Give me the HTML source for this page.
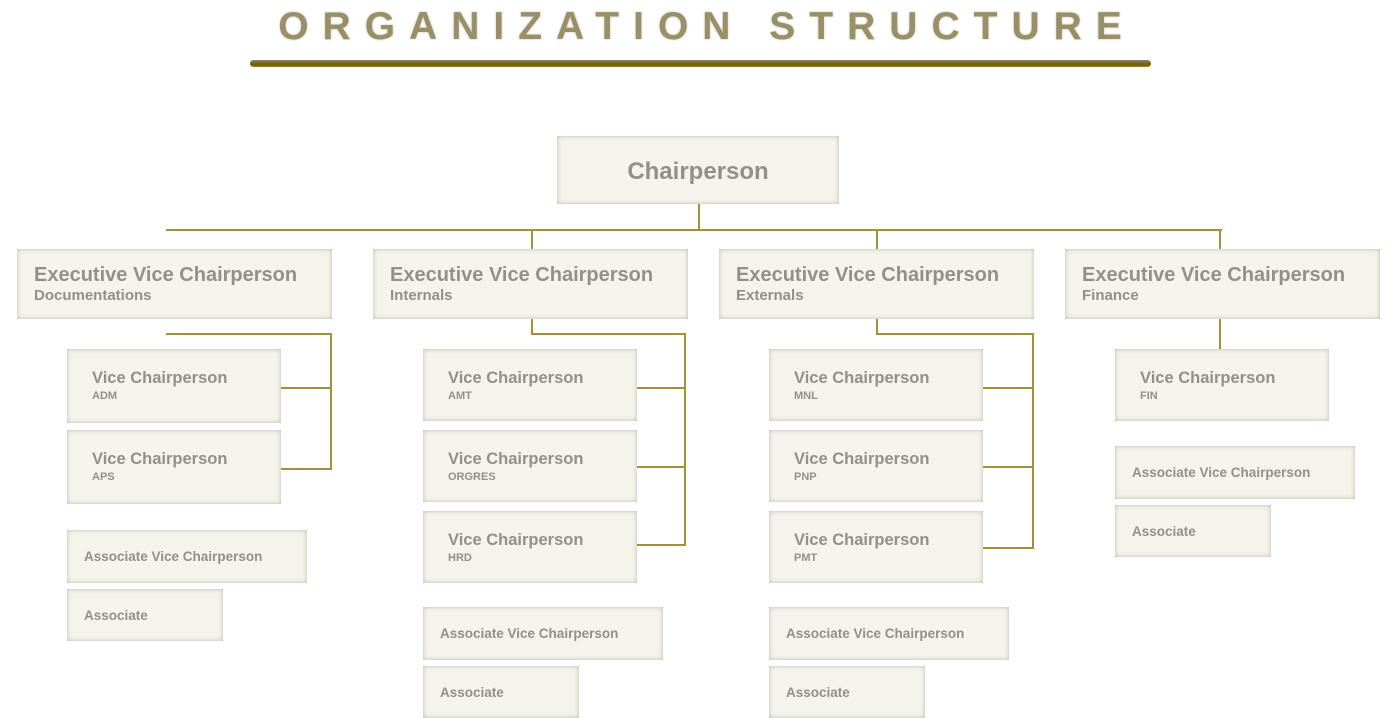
<!DOCTYPE html>
<html><head><meta charset="utf-8"><style>
*{margin:0;padding:0;box-sizing:border-box}
body{width:1400px;height:718px;background:#fff;position:relative;overflow:hidden;font-family:"Liberation Sans",sans-serif;font-weight:bold;color:#919188}
.t{position:absolute;left:0;width:1400px;top:5px;text-align:center;font-size:39px;letter-spacing:14px;color:#9a9068;text-shadow:0 0 2px rgba(80,70,30,.35);padding-left:14px}
.bar{position:absolute;left:250px;top:60px;width:901px;height:7px;border-radius:4px;background:linear-gradient(to bottom,#8f8556,#6b5a18 60%,#9a7e1e)}
.b{position:absolute;background:#f5f4ea;box-shadow:inset 0 0 5px rgba(0,0,0,.25);white-space:nowrap}
.l{position:absolute;background:#a48f3a}
.e{font-size:20px;padding:15px 0 0 17px;line-height:22px}
.e span{display:block;font-size:15px;line-height:19px}
.v{font-size:16.5px;padding:20px 0 0 25px;line-height:19px}
.v span{display:block;font-size:11px;line-height:16px}
.a{font-size:13.5px;padding:19px 0 0 17px}
</style></head><body>
<div class="t">ORGANIZATION STRUCTURE</div>
<div class="bar"></div>

<div class="b" style="left:557px;top:136px;width:282px;height:68px;font-size:24px;text-align:center;line-height:72px">Chairperson</div>
<div class="l" style="left:698px;top:204px;width:2px;height:27px"></div>
<div class="l" style="left:166px;top:229px;width:1056px;height:2px"></div>
<div class="l" style="left:531px;top:229px;width:2px;height:20px"></div>
<div class="l" style="left:876px;top:229px;width:2px;height:20px"></div>
<div class="l" style="left:1219px;top:229px;width:2px;height:20px"></div>

<div class="b e" style="left:17px;top:249px;width:315px;height:70px">Executive Vice Chairperson<span>Documentations</span></div>
<div class="b e" style="left:373px;top:249px;width:315px;height:70px">Executive Vice Chairperson<span>Internals</span></div>
<div class="b e" style="left:719px;top:249px;width:315px;height:70px">Executive Vice Chairperson<span>Externals</span></div>
<div class="b e" style="left:1065px;top:249px;width:315px;height:70px">Executive Vice Chairperson<span>Finance</span></div>

<div class="l" style="left:166px;top:333px;width:166px;height:2px"></div>
<div class="l" style="left:330px;top:333px;width:2px;height:137px"></div>
<div class="l" style="left:281px;top:387px;width:50px;height:2px"></div>
<div class="l" style="left:281px;top:468px;width:50px;height:2px"></div>

<div class="l" style="left:531px;top:319px;width:2px;height:15px"></div>
<div class="l" style="left:531px;top:333px;width:155px;height:2px"></div>
<div class="l" style="left:684px;top:333px;width:2px;height:213px"></div>
<div class="l" style="left:637px;top:387px;width:48px;height:2px"></div>
<div class="l" style="left:637px;top:466px;width:48px;height:2px"></div>
<div class="l" style="left:637px;top:544px;width:48px;height:2px"></div>

<div class="l" style="left:876px;top:319px;width:2px;height:15px"></div>
<div class="l" style="left:876px;top:333px;width:158px;height:2px"></div>
<div class="l" style="left:1032px;top:333px;width:2px;height:216px"></div>
<div class="l" style="left:983px;top:387px;width:50px;height:2px"></div>
<div class="l" style="left:983px;top:466px;width:50px;height:2px"></div>
<div class="l" style="left:983px;top:547px;width:50px;height:2px"></div>

<div class="l" style="left:1219px;top:319px;width:2px;height:30px"></div>

<div class="b v" style="left:67px;top:349px;width:214px;height:74px">Vice Chairperson<span>ADM</span></div>
<div class="b v" style="left:67px;top:430px;width:214px;height:74px">Vice Chairperson<span>APS</span></div>
<div class="b a" style="left:67px;top:530px;width:240px;height:53px">Associate Vice Chairperson</div>
<div class="b a" style="left:67px;top:589px;width:156px;height:52px">Associate</div>

<div class="b v" style="left:423px;top:349px;width:214px;height:72px">Vice Chairperson<span>AMT</span></div>
<div class="b v" style="left:423px;top:430px;width:214px;height:72px">Vice Chairperson<span>ORGRES</span></div>
<div class="b v" style="left:423px;top:511px;width:214px;height:72px">Vice Chairperson<span>HRD</span></div>
<div class="b a" style="left:423px;top:607px;width:240px;height:53px">Associate Vice Chairperson</div>
<div class="b a" style="left:423px;top:666px;width:156px;height:52px">Associate</div>

<div class="b v" style="left:769px;top:349px;width:214px;height:72px">Vice Chairperson<span>MNL</span></div>
<div class="b v" style="left:769px;top:430px;width:214px;height:72px">Vice Chairperson<span>PNP</span></div>
<div class="b v" style="left:769px;top:511px;width:214px;height:72px">Vice Chairperson<span>PMT</span></div>
<div class="b a" style="left:769px;top:607px;width:240px;height:53px">Associate Vice Chairperson</div>
<div class="b a" style="left:769px;top:666px;width:156px;height:52px">Associate</div>

<div class="b v" style="left:1115px;top:349px;width:214px;height:72px">Vice Chairperson<span>FIN</span></div>
<div class="b a" style="left:1115px;top:446px;width:240px;height:53px">Associate Vice Chairperson</div>
<div class="b a" style="left:1115px;top:505px;width:156px;height:52px">Associate</div>
</body></html>
